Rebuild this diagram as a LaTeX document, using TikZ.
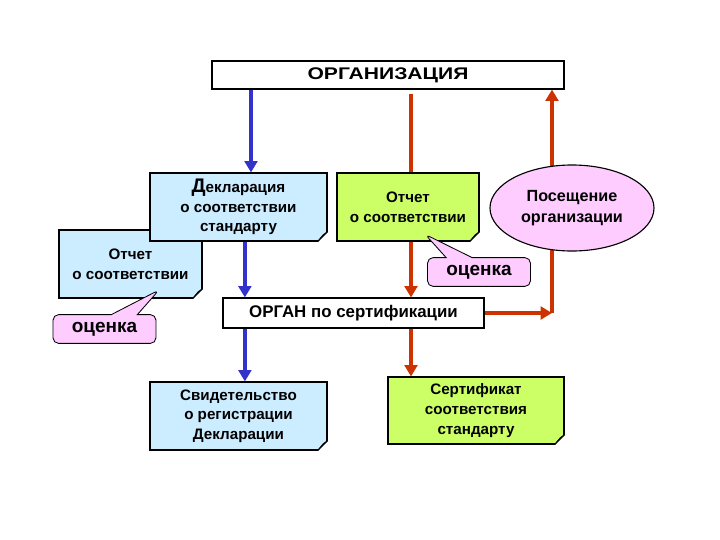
\documentclass[tikz,border=0pt]{standalone}
\usepackage{fontspec}
\setmainfont{Liberation Sans}
\usetikzlibrary{shapes.geometric,shapes.callouts,arrows.meta}
\definecolor{declblue}{HTML}{CCECFF}
\definecolor{repgreen}{HTML}{CCFF66}
\definecolor{notepink}{HTML}{FFCCFF}
\definecolor{lineblue}{HTML}{3333CC}
\definecolor{linered}{HTML}{CC3300}
\definecolor{foldgray}{HTML}{A8A8A8}

\begin{document}
\begin{tikzpicture}[font=\bfseries\fontsize{10.8}{14}\selectfont]
    \tikzstyle{block} = [rectangle, draw, line width=0.8pt, align=center, inner sep=0pt]
    \tikzstyle{notebox} = [block, minimum width=4.425cm, minimum height=1.7cm]
    \tikzstyle{markbox} = [rectangle callout, draw, line width=0.6pt, fill=notepink,
        rounded corners=4pt, minimum width=2.575cm, minimum height=0.72cm,
        inner sep=0pt, callout pointer width=0.65cm,
        font=\bfseries\fontsize{13.5}{16}\selectfont]
    \tikzstyle{blueline} = [draw=lineblue, line width=2.4pt, -{Triangle[width=9pt,length=8pt]}]
    \tikzstyle{redline} = [draw=linered, line width=2.4pt, -{Triangle[width=9pt,length=8pt]}]

    \useasboundingbox (-9.7,1.875) rectangle (8.3,-11.625);

    \node [block, minimum width=8.8cm, minimum height=0.7cm,
        font=\bfseries\fontsize{12}{14}\selectfont] (org) {\scalebox{1.25}[1]{ОРГАНИЗАЦИЯ}};
    %
    \node [notebox, fill=declblue, minimum width=3.575cm, below of=org,
        node distance=4.725cm, xshift=-6.4375cm] (leftrep) {Отчет\\о соответствии};
    \node [notebox, fill=declblue, below of=org, node distance=3.3cm,
        xshift=-3.7375cm] (decl) {{\fontsize{14}{14}\selectfont Д}екларация\\о соответствии\\стандарту};
    \node [block, minimum width=6.525cm, minimum height=0.75cm, below of=org,
        node distance=5.95cm, xshift=-0.8625cm,
        font=\bfseries\fontsize{12}{14}\selectfont] (organ) {ОРГАН по сертификации};
    \node [notebox, fill=declblue, below of=decl, node distance=5.225cm] (svid)
        {Свидетельство\\о регистрации\\Декларации};
    %
    \coordinate [right of=org, node distance=0.575cm] (redx);
    \coordinate [right of=organ, node distance=4.9625cm] (turn);
    \path [redline] ([yshift=-0.1cm]org.south -| redx) -- (organ.north -| redx);
    \path [redline] (organ.east) -- (turn);
    \path [redline] (turn) -- (org.south -| turn);
    %
    \node [notebox, fill=repgreen, minimum width=3.55cm, below of=org,
        node distance=3.3cm, xshift=0.5cm] (greenrep) {Отчет\\о соответствии};
    \node [ellipse, draw, line width=0.8pt, fill=notepink, minimum width=4.1cm,
        minimum height=2.15cm, align=center, inner sep=0pt, below of=org,
        node distance=3.325cm, xshift=4.6cm,
        font=\bfseries\fontsize{11.5}{15}\selectfont] (visit) {Посещение\\организации};
    \node [notebox, fill=repgreen, minimum width=4.4cm, minimum height=1.675cm,
        below of=greenrep, node distance=5.0875cm, xshift=1.7cm] (cert)
        {Сертификат\\соответствия\\стандарту};
    %
    \coordinate [left of=org, node distance=3.425cm] (bluetop);
    \coordinate [right of=decl, node distance=0.16cm] (bluemid);
    \path [blueline] (org.south -| bluetop) -- (decl.north -| bluetop);
    \path [blueline] (decl.south -| bluemid) -- (organ.north -| bluemid);
    \path [blueline] (organ.south -| bluemid) -- (svid.north -| bluemid);
    \path [redline] (organ.south -| redx) -- (cert.north -| redx);
    %
    \foreach \n in {leftrep,decl,greenrep,svid,cert} {
        \fill [white] ([xshift=0.6pt,yshift=-0.6pt]\n.south east)
            -- ([xshift=-0.25cm,yshift=-0.6pt]\n.south east)
            -- ([xshift=0.6pt,yshift=0.25cm]\n.south east) -- cycle;
        \filldraw [fill=foldgray, line width=0.5pt] ([xshift=-0.25cm]\n.south east)
            -- ([yshift=0.25cm]\n.south east) -- ([xshift=-0.11cm,yshift=0.17cm]\n.south east) -- cycle;
        \draw [line width=0.8pt] ([xshift=-0.25cm]\n.south east) -- ([yshift=0.25cm]\n.south east);
    }
    %
    \node [markbox, below of=leftrep, node distance=1.625cm, xshift=-0.65cm,
        callout relative pointer={(0.86,0.615)}] (leftmark) {оценка};
    \node [markbox, below of=greenrep, node distance=1.625cm, xshift=1.775cm,
        callout relative pointer={(-0.83,0.58)}] (rightmark) {оценка};

\end{tikzpicture}
\end{document}
